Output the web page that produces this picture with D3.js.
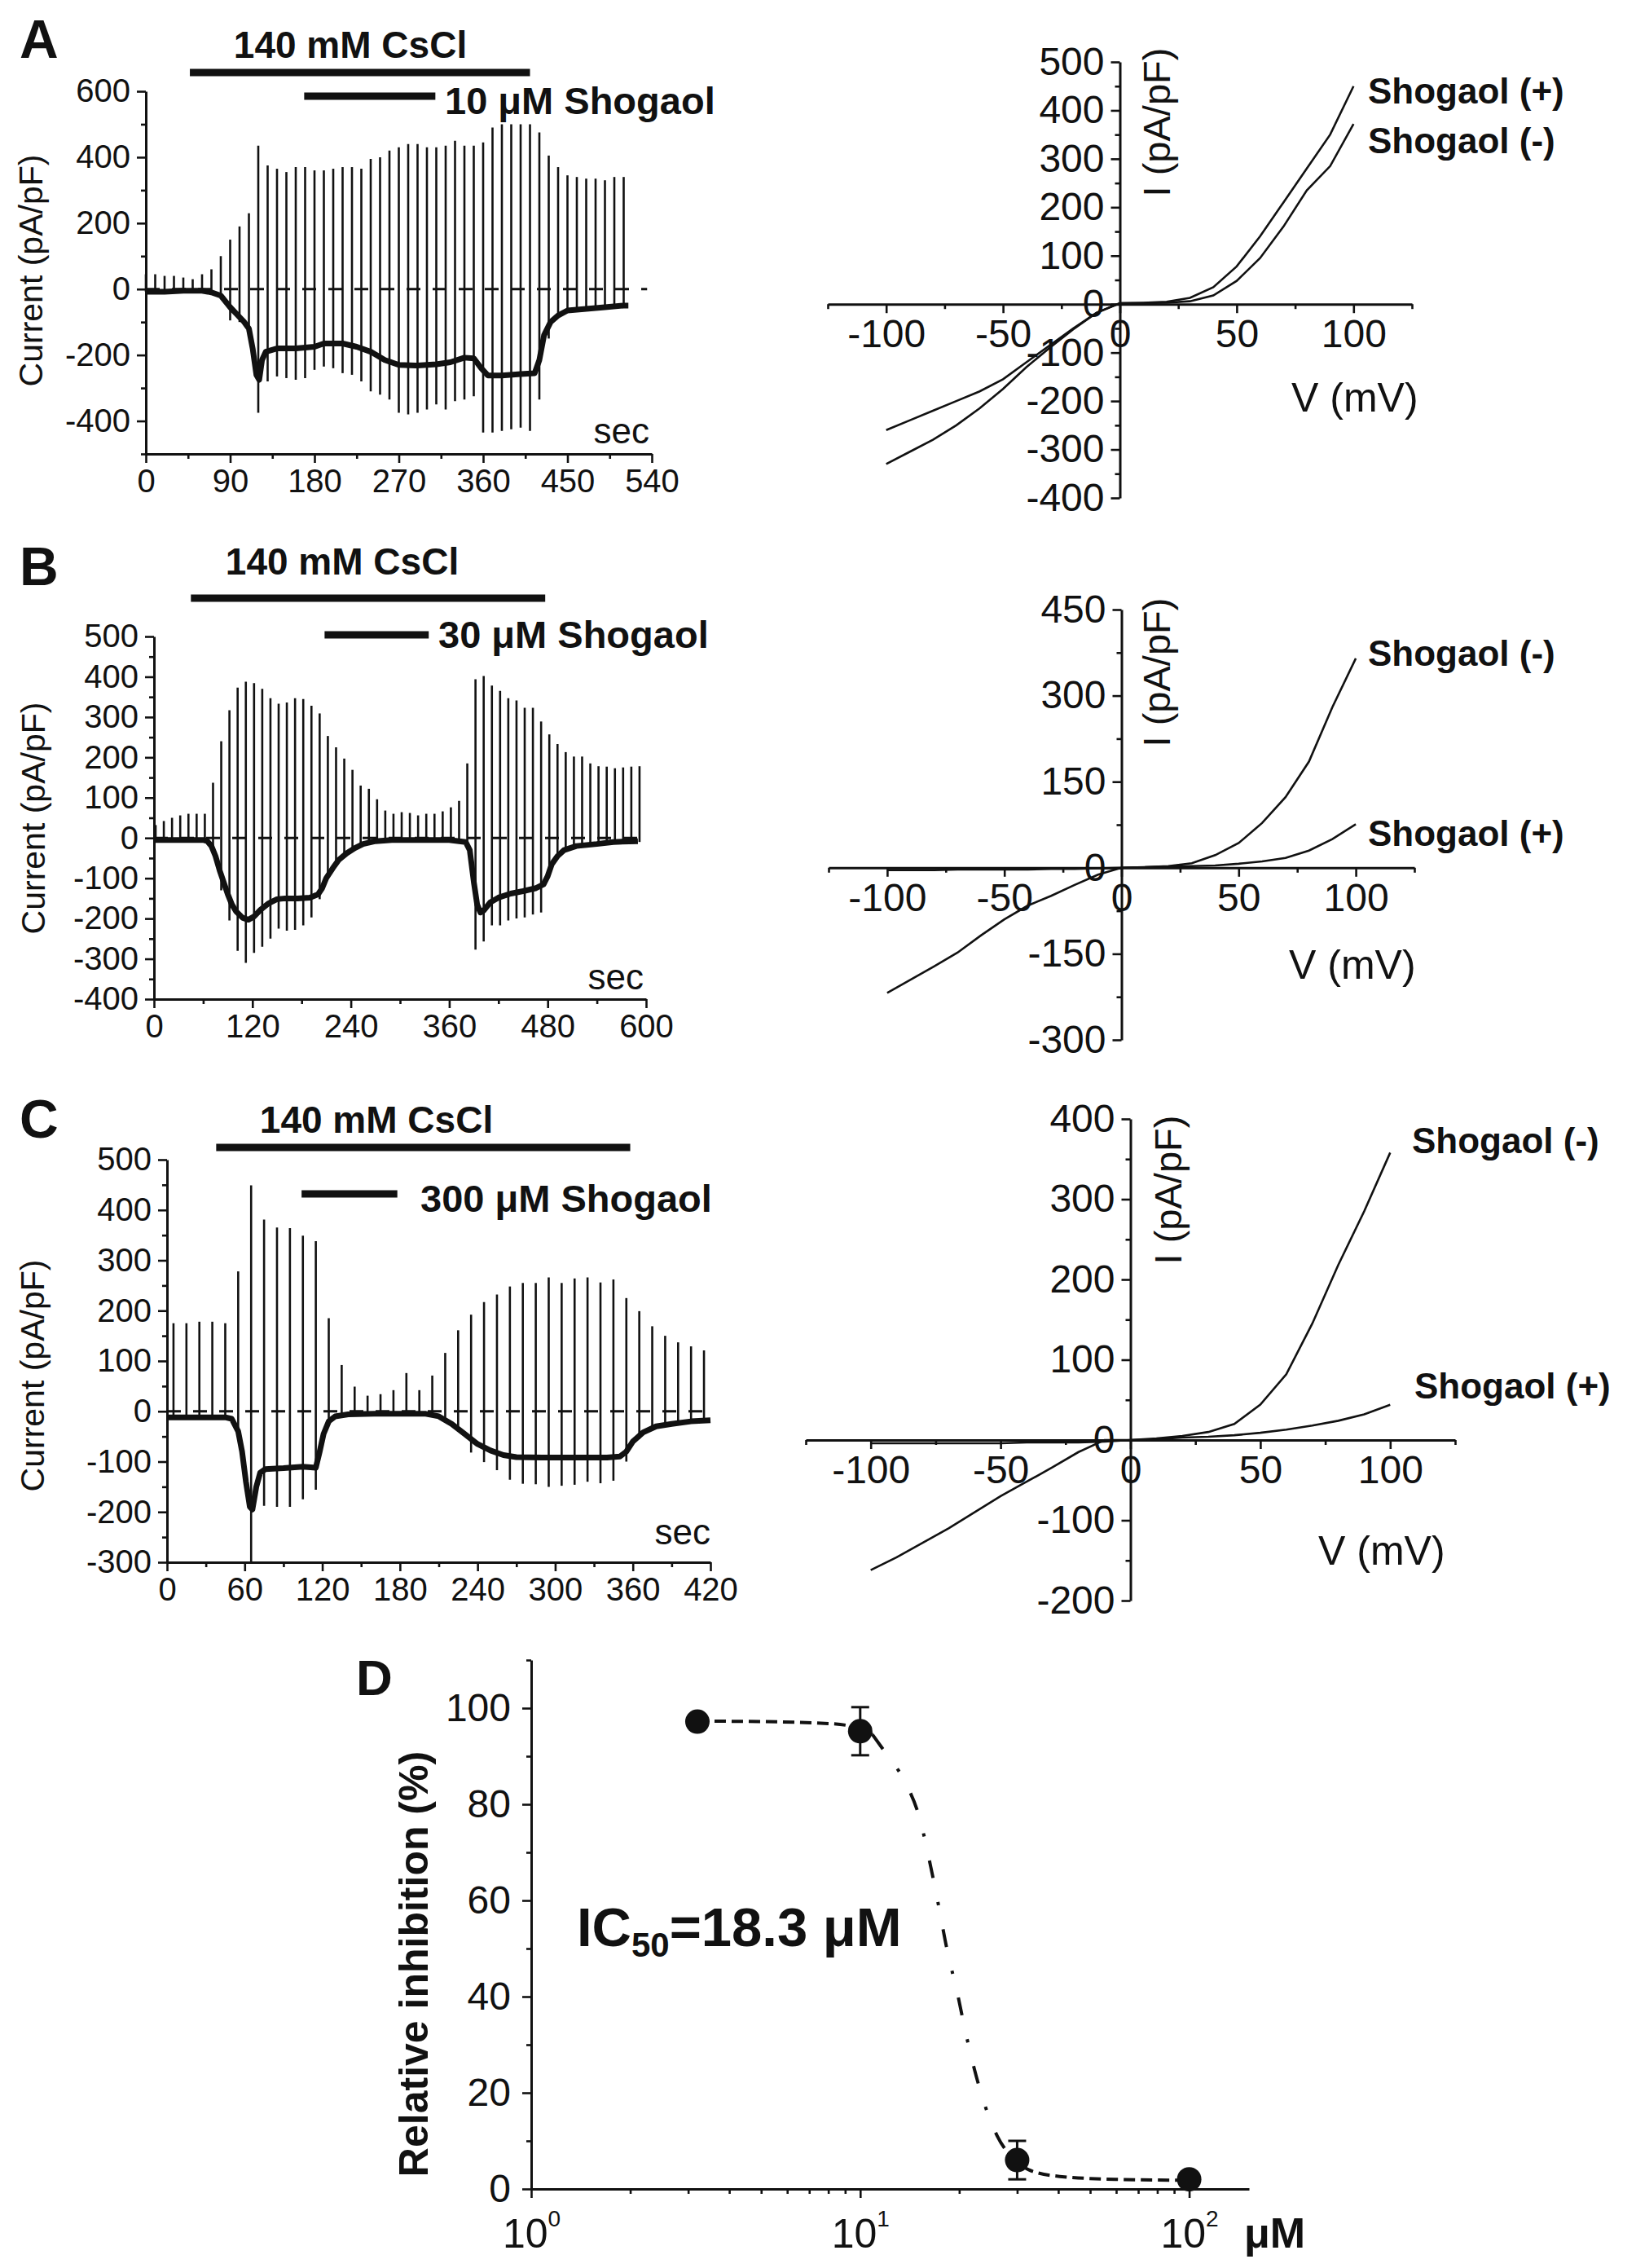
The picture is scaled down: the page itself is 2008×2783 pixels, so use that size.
<!DOCTYPE html>
<html>
<head>
<meta charset="utf-8">
<script src="https://cdn.jsdelivr.net/npm/d3@7"></script>
<style>
  body { margin: 0; background: #fff; }
  svg { display: block; }
  text { font-family: "Liberation Sans", Arial, sans-serif; fill: #111; }
</style>
</head>
<body>
<svg id="fig" width="2008" height="2783"></svg>
<script>
/*global d3*/

// ---- A: time course, 10 uM ----
let rampTA = [0,10,20,30,40,50,60,70,80,90,100,110,120,130,140,150,160,170,180,190,200,210,220,230,240,250,260,270,280,290,300,310,320,330,340,350,360,370,380,390,400,410,420,430,440,450,460,470,480,490,500,510];
let rampHiA = [45,45,40,40,35,30,45,60,100,150,190,230,435,375,365,355,370,370,360,360,365,370,370,365,395,400,420,430,440,440,430,430,435,450,435,435,445,490,500,500,500,500,475,405,370,345,340,335,335,330,340,340];
let rampLoA = [-8,-8,-8,-5,-5,-5,-8,-12,-25,-95,-100,-120,-375,-280,-265,-270,-275,-270,-245,-235,-240,-255,-260,-280,-310,-320,-335,-375,-380,-375,-365,-350,-365,-340,-335,-325,-435,-435,-430,-425,-420,-430,-335,-150,-85,-70,-62,-60,-58,-55,-52,-50];
let traceTA = [0,20,40,60,70,80,90,100,105,110,114,118,121,124,128,140,160,180,190,210,225,240,255,270,290,310,325,340,350,358,365,380,400,415,420,425,432,440,450,470,490,510,515];
let traceIA = [-8,-8,-5,-5,-10,-20,-55,-85,-100,-120,-180,-260,-275,-215,-190,-180,-180,-175,-165,-165,-175,-190,-215,-230,-232,-228,-222,-208,-210,-240,-262,-262,-258,-255,-215,-140,-100,-80,-65,-60,-55,-50,-50];

// ---- B: time course, 30 uM ----
let rampTB = [2,12,22,32,42,52,62,72,82,92,102,112,122,132,142,152,162,172,182,192,202,212,222,232,242,252,262,272,282,292,302,312,322,332,342,352,362,372,382,392,402,412,422,432,442,452,462,472,482,492,502,512,522,532,542,552,562,572,582,592];
let rampHiB = [32,42,50,56,60,60,60,137,240,317,373,388,384,370,347,333,336,347,345,328,309,253,225,197,169,130,122,96,68,60,64,62,56,60,60,66,76,92,185,394,402,378,365,347,341,323,323,289,257,233,213,202,202,185,178,177,173,175,177,178];
let rampLoB = [-5,-5,-5,-5,-5,-5,-5,-20,-130,-205,-280,-310,-285,-270,-250,-225,-230,-228,-217,-197,-152,-100,-65,-45,-30,-20,-12,-5,-5,-5,-5,-5,-5,-5,-5,-5,-5,-5,-15,-277,-257,-217,-217,-205,-200,-197,-190,-185,-90,-50,-30,-22,-18,-15,-12,-10,-10,-10,-10,-10];
let traceTB = [0,60,65,70,75,80,85,90,95,100,108,115,122,130,140,150,160,175,190,200,205,210,218,225,235,245,255,270,290,360,380,385,390,394,398,402,410,420,435,450,465,475,480,485,492,500,515,540,560,590];
let traceIB = [-5,-5,-8,-20,-45,-80,-110,-140,-165,-182,-198,-203,-195,-178,-162,-152,-150,-150,-148,-140,-125,-100,-75,-55,-38,-25,-15,-8,-5,-5,-10,-30,-110,-165,-185,-180,-160,-148,-138,-132,-125,-115,-95,-65,-45,-30,-20,-15,-10,-8];

// ---- C: time course, 300 uM ----
let rampTC = [5,15,25,35,45,55,65,75,85,95,105,115,125,135,145,155,165,175,185,195,205,215,225,235,245,255,265,275,285,295,305,315,325,335,345,355,365,375,385,395,405,415];
let rampHiC = [175,175,178,178,175,278,449,381,365,364,349,338,185,92,49,31,34,42,76,42,71,116,161,192,217,232,248,255,255,266,255,264,266,256,262,225,199,169,150,137,129,121];
let rampLoC = [-12,-12,-12,-12,-12,-40,-300,-188,-190,-190,-175,-156,-20,-8,-5,-5,-5,-5,-5,-5,-5,-15,-35,-82,-101,-117,-136,-144,-145,-150,-148,-146,-140,-143,-138,-100,-55,-35,-28,-24,-22,-20];
let traceTC = [0,45,50,55,58,61,64,66,69,72,76,90,105,115,118,121,125,130,140,160,200,210,220,230,240,250,260,270,290,340,350,355,360,368,378,390,405,420];
let traceIC = [-12,-12,-15,-40,-80,-140,-190,-195,-150,-122,-115,-113,-110,-112,-80,-45,-20,-10,-6,-5,-5,-10,-25,-45,-65,-78,-87,-91,-92,-92,-90,-80,-60,-42,-30,-25,-20,-18];

// application bars (s): [start, end]
let csclA = [47, 410], shogA = [169, 309];
let csclB = [45, 477], shogB = [208, 335];
let csclC = [38, 358], shogC = [104, 178];

// ---- I-V curves (mV, pA/pF) ----
let ivV = [-100,-90,-80,-70,-60,-50,-40,-30,-20,-10,0,10,20,30,40,50,60,70,80,90,100];
let ivAPlus  = [-260,-240,-220,-200,-180,-155,-120,-85,-50,-18,2,3,5,13,35,78,140,210,280,350,450];
let ivAMinus = [-330,-305,-280,-250,-215,-175,-130,-90,-52,-18,2,2,3,6,18,48,95,160,235,285,372];
let ivBPlus  = [-4,-4,-4,-3,-3,-3,-3,-2,-2,-1,0,1,2,3,4,7,11,17,30,50,76];
let ivBMinus = [-218,-195,-172,-148,-118,-90,-66,-49,-30,-12,0,1,3,8,22,43,78,123,185,280,365];
let ivCPlus  = [-4,-4,-4,-4,-4,-4,-3,-3,-3,-2,0,1,3,4,6,9,13,18,24,32,44];
let ivCMinus = [-162,-146,-128,-110,-90,-70,-52,-34,-15,0,0,2,5,10,20,44,82,145,218,285,358];

// ---- D: concentration-response ----
let concD = [3.2, 10, 30, 100];
let inhibD = [97.2, 95.2, 6.0, 2.0];
let semD = [1.2, 5, 4, 1];
let fitConcD = [3.2,5,8,10,10.9,12,13.6,15.1,16.5,17.3,18.4,19.7,21,23.4,26.1,28.5,32.5,40.4,60,100];
let fitInhibD = [97.3,97.2,96.8,95.8,94.5,90.5,85,77.5,66,59,49.5,41,32,19.5,11,7,4,2.6,2,1.8];

// tick labels
let ticksAx = [0,90,180,270,360,450,540], ticksAy = [-400,-200,0,200,400,600];
let ticksBx = [0,120,240,360,480,600], ticksBy = [-400,-300,-200,-100,0,100,200,300,400,500];
let ticksCx = [0,60,120,180,240,300,360,420], ticksCy = [-300,-200,-100,0,100,200,300,400,500];
let ticksIV = [-100,-50,0,50,100];
let ticksIA = [-400,-300,-200,-100,0,100,200,300,400,500];
let ticksIB = [-300,-150,0,150,300,450];
let ticksIC = [-200,-100,0,100,200,300,400];
let ticksDy = [0,20,40,60,80,100], ticksDx = [1,10,100];

const ink = '#111';
const svg = d3.select('#fig');
svg.append('rect').attr('width', 2008).attr('height', 2783).attr('fill', '#fff');

// half-way minor ticks between majors, kept inside the domain
function minorOf(major, domain) {
    let step = major[1] - major[0];
    let out = [];
    for (let v = major[0] - step / 2; v <= major[major.length - 1] + step / 2; v += step) {
        if (v >= domain[0] && v <= domain[1]) out.push(v);
    }
    return out;
}

function styleAxis(sel, fs) {
    sel.attr('font-family', null).attr('font-size', null);
    sel.select('.domain').attr('stroke', ink).attr('stroke-width', 3);
    sel.selectAll('.tick line').attr('stroke', ink).attr('stroke-width', 2.6);
    sel.selectAll('.tick text').attr('fill', ink).style('font-size', fs + 'px');
    return sel;
}

// make = d3.axisLeft / d3.axisBottom
function addAxis(g, make, scale, pos, major, minor, fs, pad) {
    let a = g.append('g').attr('transform', pos)
        .call(make(scale).tickValues(major).tickSize(11).tickSizeOuter(0).tickPadding(pad || 8).tickFormat(d => String(d)));
    styleAxis(a, fs);
    let m = g.append('g').attr('transform', pos)
        .call(make(scale).tickValues(minor).tickSize(6).tickSizeOuter(0).tickFormat(() => ''));
    styleAxis(m, fs);
    m.select('.domain').remove();
    return a;
}

function label(g, txt, x, y, fs, opts) {
    opts = opts || {};
    let t = g.append('text').attr('x', x).attr('y', y)
        .style('font-size', fs + 'px')
        .attr('text-anchor', opts.anchor || 'start')
        .attr('font-weight', opts.bold ? 'bold' : null)
        .text(txt);
    if (opts.rotate) {
        t.attr('x', 0).attr('y', 0).attr('transform', 'translate(' + x + ',' + y + ') rotate(-90)');
    }
    return t;
}

// ---------- time-course panels ----------
function tracePanel(p) {
    let x = d3.scaleLinear().domain(p.xDomain).range([p.left, p.right]);
    let y = d3.scaleLinear().domain(p.yDomain).range([p.bottom, p.top]);
    let g = svg.append('g');

    // dashed zero level
    g.append('path')
        .attr('d', d3.line()([[x(p.xDomain[0]), y(0)], [x(p.zeroEnd), y(0)]]))
        .attr('stroke', ink).attr('stroke-width', 3).attr('stroke-dasharray', '17,15');

    // voltage-ramp current excursions
    g.selectAll('line.ramp').data(p.rampT).join('line')
        .attr('class', 'ramp')
        .attr('x1', d => x(d)).attr('x2', d => x(d))
        .attr('y1', (d, i) => y(p.rampLo[i]))
        .attr('y2', (d, i) => y(p.rampHi[i]))
        .attr('stroke', ink).attr('stroke-width', 2.6);

    // holding current
    g.append('path').datum(p.traceT)
        .attr('d', d3.line().x(d => x(d)).y((d, i) => y(p.traceI[i])))
        .attr('fill', 'none').attr('stroke', ink).attr('stroke-width', 7)
        .attr('stroke-linejoin', 'round');

    addAxis(g, d3.axisLeft, y, 'translate(' + p.left + ',0)', p.yTicks, minorOf(p.yTicks, p.yDomain), 40);
    addAxis(g, d3.axisBottom, x, 'translate(0,' + p.bottom + ')', p.xTicks, minorOf(p.xTicks, p.xDomain), 40);

    // application bars
    g.append('line').attr('x1', x(p.cscl[0])).attr('x2', x(p.cscl[1]))
        .attr('y1', p.csclY).attr('y2', p.csclY).attr('stroke', ink).attr('stroke-width', 9);
    g.append('line').attr('x1', x(p.shog[0])).attr('x2', x(p.shog[1]))
        .attr('y1', p.shogY).attr('y2', p.shogY).attr('stroke', ink).attr('stroke-width', 9);

    label(g, '140 mM CsCl', p.csclLabel[0], p.csclLabel[1], 46, { anchor: 'middle', bold: true });
    label(g, p.shogText, p.shogLabel[0], p.shogLabel[1], 47, { bold: true });
    label(g, 'sec', p.secPos[0], p.secPos[1], 44, { anchor: 'end' });
    label(g, 'Current (pA/pF)', p.yTitle[0], p.yTitle[1], 41, { anchor: 'middle', rotate: true });
    label(g, p.letter, p.letterPos[0], p.letterPos[1], 66, { bold: true });
}

tracePanel({
    left: 179, right: 800, top: 112, bottom: 557,
    xDomain: [0, 540], yDomain: [-500, 600], xTicks: ticksAx, yTicks: ticksAy, zeroEnd: 535,
    rampT: rampTA, rampHi: rampHiA, rampLo: rampLoA, traceT: traceTA, traceI: traceIA,
    cscl: csclA, csclY: 89, shog: shogA, shogY: 118,
    csclLabel: [430, 71], shogText: '10 μM Shogaol', shogLabel: [546, 140],
    secPos: [797, 544], yTitle: [52, 332], letter: 'A', letterPos: [24, 71]
});

tracePanel({
    left: 189, right: 793, top: 781, bottom: 1226,
    xDomain: [0, 600], yDomain: [-400, 500], xTicks: ticksBx, yTicks: ticksBy, zeroEnd: 592,
    rampT: rampTB, rampHi: rampHiB, rampLo: rampLoB, traceT: traceTB, traceI: traceIB,
    cscl: csclB, csclY: 734, shog: shogB, shogY: 779,
    csclLabel: [420, 705], shogText: '30 μM Shogaol', shogLabel: [538, 795],
    secPos: [790, 1214], yTitle: [55, 1004], letter: 'B', letterPos: [24, 718]
});

tracePanel({
    left: 205, right: 872, top: 1423, bottom: 1917,
    xDomain: [0, 420], yDomain: [-300, 500], xTicks: ticksCx, yTicks: ticksCy, zeroEnd: 420,
    rampT: rampTC, rampHi: rampHiC, rampLo: rampLoC, traceT: traceTC, traceI: traceIC,
    cscl: csclC, csclY: 1408, shog: shogC, shogY: 1465,
    csclLabel: [462, 1390], shogText: '300 μM Shogaol', shogLabel: [516, 1487],
    secPos: [872, 1895], yTitle: [54, 1688], letter: 'C', letterPos: [24, 1396]
});

// ---------- I-V panels ----------
function ivPanel(p) {
    let x = d3.scaleLinear().domain([-125, 125]).range(p.xRange);
    let y = d3.scaleLinear().domain(p.yDomain).range(p.yRange);
    let g = svg.append('g');

    addAxis(g, d3.axisLeft, y, 'translate(' + x(0) + ',0)', p.yTicks, minorOf(p.yTicks, p.yDomain), 48);
    addAxis(g, d3.axisBottom, x, 'translate(0,' + y(0) + ')', ticksIV, minorOf(ticksIV, [-125, 125]), 48);

    let line = d3.line().x(d => x(d[0])).y(d => y(d[1]));
    [p.plus, p.minus].forEach(s => {
        g.append('path').datum(ivV.map((v, i) => [v, s[i]]))
            .attr('d', line).attr('fill', 'none')
            .attr('stroke', ink).attr('stroke-width', 2.6);
    });

    label(g, 'I (pA/pF)', p.iTitle[0], p.iTitle[1], 47, { anchor: 'middle', rotate: true });
    label(g, 'V (mV)', p.vTitle[0], p.vTitle[1], 50);
    label(g, 'Shogaol (+)', p.plusLabel[0], p.plusLabel[1], 44, { bold: true });
    label(g, 'Shogaol (-)', p.minusLabel[0], p.minusLabel[1], 44, { bold: true });
}

ivPanel({
    xRange: [1016, 1733], yDomain: [-400, 500], yRange: [611, 76], yTicks: ticksIA,
    plus: ivAPlus, minus: ivAMinus,
    iTitle: [1436, 150], vTitle: [1585, 505], plusLabel: [1679, 127], minusLabel: [1679, 188]
});
ivPanel({
    xRange: [1017, 1736], yDomain: [-300, 450], yRange: [1276, 748], yTicks: ticksIB,
    plus: ivBPlus, minus: ivBMinus,
    iTitle: [1436, 825], vTitle: [1582, 1201], plusLabel: [1679, 1038], minusLabel: [1679, 817]
});
ivPanel({
    xRange: [989, 1786], yDomain: [-200, 400], yRange: [1964, 1373], yTicks: ticksIC,
    plus: ivCPlus, minus: ivCMinus,
    iTitle: [1450, 1460], vTitle: [1618, 1920], plusLabel: [1736, 1716], minusLabel: [1733, 1415]
});

// ---------- D: concentration-response ----------
{
    let x = d3.scaleLog().domain([1, 152]).range([652, 1533]);
    let y = d3.scaleLinear().domain([0, 110]).range([2686, 2037]);
    let g = svg.append('g');

    addAxis(g, d3.axisLeft, y, 'translate(652,0)', ticksDy, minorOf(ticksDy, [0, 110]), 48, 14);
    let xMinor = [2,3,4,5,6,7,8,9,20,30,40,50,60,70,80,90];
    let ax = addAxis(g, d3.axisBottom, x, 'translate(0,2686)', ticksDx, xMinor, 50);
    ax.selectAll('.tick text').each(function(d) {
        let t = d3.select(this).text(null).attr('dy', null).attr('y', 72);
        t.append('tspan').text('10');
        t.append('tspan').attr('dy', -26).style('font-size', '28px').text(Math.round(Math.log10(d)));
    });

    // fitted Hill curve: flat shoulders finely dashed, steep middle sparsely dashed (as plotted)
    let fitLine = d3.line().x(d => x(d[0])).y(d => y(d[1])).curve(d3.curveMonotoneX);
    let fitPts = fitConcD.map((c, i) => [c, fitInhibD[i]]);
    [[0, 5, '14,7'], [4, 16, '22,30,4,30'], [15, fitPts.length, '14,7']].forEach(seg => {
        g.append('path').datum(fitPts.slice(seg[0], seg[1]))
            .attr('d', fitLine).attr('fill', 'none').attr('stroke', ink)
            .attr('stroke-width', 4).attr('stroke-dasharray', seg[2]);
    });

    // error bars + points
    concD.forEach((c, i) => {
        let cx = x(c);
        g.append('line').attr('x1', cx).attr('x2', cx)
            .attr('y1', y(inhibD[i] - semD[i])).attr('y2', y(inhibD[i] + semD[i]))
            .attr('stroke', ink).attr('stroke-width', 3);
        [inhibD[i] - semD[i], inhibD[i] + semD[i]].forEach(v => {
            g.append('line').attr('x1', cx - 11).attr('x2', cx + 11)
                .attr('y1', y(v)).attr('y2', y(v)).attr('stroke', ink).attr('stroke-width', 3);
        });
        g.append('circle').attr('cx', cx).attr('cy', y(inhibD[i])).attr('r', 15).attr('fill', ink);
    });

    let ic = g.append('text').attr('x', 708).attr('y', 2388)
        .attr('font-weight', 'bold').style('font-size', '67px');
    ic.append('tspan').text('IC');
    ic.append('tspan').attr('dy', 13).style('font-size', '42px').text('50');
    ic.append('tspan').attr('dy', -13).text('=18.3 μM');

    label(g, 'Relative inhibition (%)', 525, 2410, 50, { anchor: 'middle', bold: true, rotate: true });
    label(g, 'μM', 1527, 2758, 52, { bold: true });
    label(g, 'D', 437, 2080, 62, { bold: true });
}
</script>
</body>
</html>
